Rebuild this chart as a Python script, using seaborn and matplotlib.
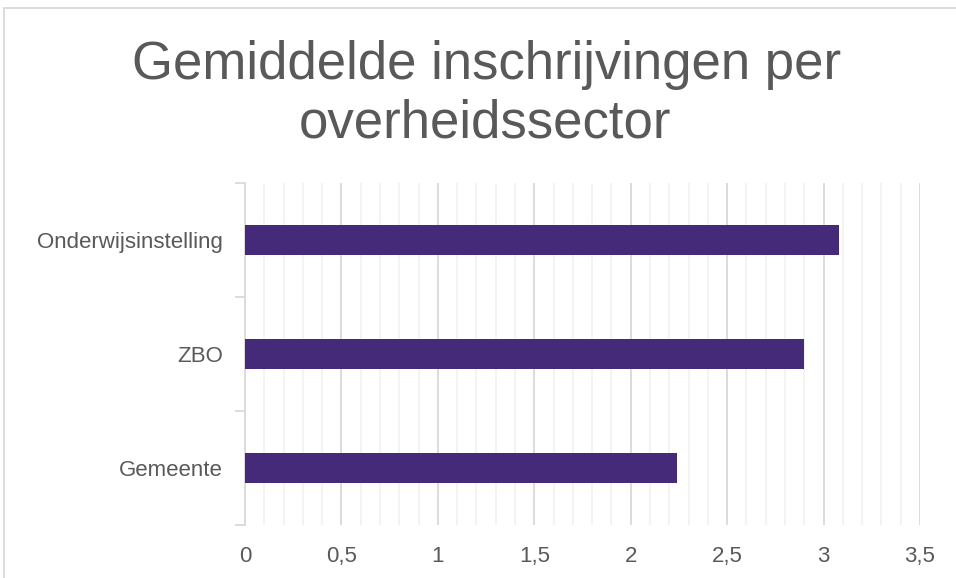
import matplotlib
matplotlib.use("Agg")
import matplotlib.pyplot as plt
from matplotlib.ticker import MultipleLocator, FuncFormatter
from matplotlib.patches import Rectangle
import pandas as pd
import seaborn as sns

# data
sectors = ["Onderwijsinstelling", "ZBO", "Gemeente"]
averages = [3.08, 2.90, 2.24]
title_lines = ["Gemiddelde inschrijvingen per", "overheidssector"]

df = pd.DataFrame({"sector": sectors, "gemiddelde": averages})

sns.set_style("white")
plt.rcParams["font.family"] = ["Liberation Sans", "DejaVu Sans"]

fig = plt.figure(figsize=(9.56, 5.78), dpi=100)
ax = fig.add_axes([0.2563, 0.0917, 0.7060, 0.5917])

sns.barplot(data=df, x="gemiddelde", y="sector", orient="h", color="#442A78",
            width=0.27, saturation=1, linewidth=0, ax=ax, zorder=3)

ax.set_xlim(0, 3.5)
ax.set_ylim(2.5, -0.5)
ax.xaxis.set_major_locator(MultipleLocator(0.5))
ax.xaxis.set_minor_locator(MultipleLocator(0.1))
ax.xaxis.set_major_formatter(FuncFormatter(lambda v, p: f"{v:g}".replace(".", ",")))
ax.grid(axis="x", which="major", color="#D9D9D9", linewidth=1.3, zorder=0)
ax.grid(axis="x", which="minor", color="#F2F2F2", linewidth=1.3, zorder=0)
ax.set_axisbelow(True)

for s in ["top", "right", "bottom"]:
    ax.spines[s].set_visible(False)
ax.spines["left"].set_color("#D9D9D9")
ax.spines["left"].set_linewidth(1.3)

# category separators on the left axis
ax.set_yticks([0, 1, 2])
ax.set_yticks([-0.5, 0.5, 1.5, 2.5], minor=True)
ax.tick_params(axis="y", which="minor", length=7, color="#D9D9D9", width=1.3, left=True)
ax.tick_params(axis="y", which="major", length=0, pad=16, labelsize=16, labelcolor="#595959")
ax.tick_params(axis="x", which="both", length=0, pad=15, labelsize=16, labelcolor="#595959")
ax.set_xlabel("")
ax.set_ylabel("")

fig.text(487 / 956, 1 - 79 / 578, title_lines[0], ha="center", va="baseline",
         fontsize=38, color="#595959")
fig.text(485 / 956, 1 - 138 / 578, title_lines[1], ha="center", va="baseline",
         fontsize=38, color="#595959")

# chart border
fig.patches.append(Rectangle((4 / 956, -0.01), 1.0, 1 - 8 / 578 + 0.01,
                             transform=fig.transFigure, fill=False,
                             edgecolor="#D9D9D9", linewidth=1.3))

fig.savefig("out.png", dpi=100)
